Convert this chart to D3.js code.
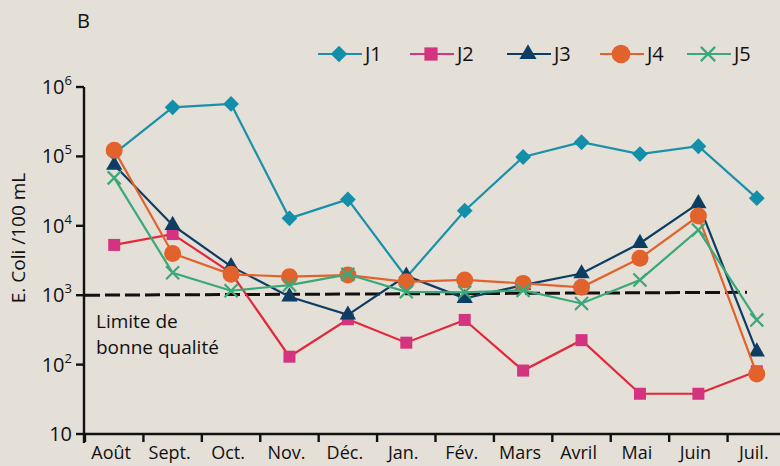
<!DOCTYPE html>
<html>
<head>
<meta charset="utf-8">
<script src="https://cdn.jsdelivr.net/npm/d3@7"></script>
<style>
  body { margin: 0; background: #e4dfd7; }
  svg { display: block; font-family: "Open Sans", "Noto Sans", sans-serif; }
</style>
</head>
<body>
<svg width="780" height="466"></svg>
<script>
// months (x categories)
var months = ["Août", "Sept.", "Oct.", "Nov.", "Déc.", "Jan.", "Fév.", "Mars", "Avril", "Mai", "Juin", "Juil."];

// E. coli / 100 mL
var J1 = [110000, 510000, 570000, 12800, 24000, 1800, 16500, 98000, 160000, 108000, 140000, 25000];
var J2 = [5300, 7600, 2100, 130, 450, 207, 440, 82, 225, 38, 38, 80];
var J3 = [75000, 10200, 2600, 950, 520, 1900, 900, 1400, 2050, 5600, 21000, 153];
var J4 = [123000, 4000, 2000, 1850, 1950, 1560, 1660, 1480, 1300, 3400, 13800, 73];
var J5 = [49000, 2100, 1160, 1400, 2000, 1120, 1100, 1170, 760, 1660, 8700, 440];

var seriesNames = ["J1", "J2", "J3", "J4", "J5"];
var yTicks = [10, 100, 1000, 10000, 100000, 1000000];
var yTickExp = ["", "2", "3", "4", "5", "6"];
var limit = [1000, 1100]; // dashed "limite" line, start / end value

var series = [
  {name: "J1", values: J1, line: "#1b90aa", fill: "#138fa9", shape: "diamond"},
  {name: "J2", values: J2, line: "#e2283c", fill: "#d4347f", legendLine: "#d8377f", shape: "square"},
  {name: "J3", values: J3, line: "#0d3d63", fill: "#0d3d63", shape: "triangle"},
  {name: "J4", values: J4, line: "#e2622b", fill: "#e2622b", shape: "circle"},
  {name: "J5", values: J5, line: "#3aa878", fill: "#3aa878", shape: "cross"}
];

var svg = d3.select("svg");

var x = d3.scaleBand().domain(months).range([85, 786]);
var y = d3.scaleLog().domain([10, 1e6]).range([434, 87]);
var cx = function(i){ return x(months[i]) + x.bandwidth() / 2; };

// panel letter
svg.append("text").attr("x", 77).attr("y", 28).attr("font-size", 20).attr("fill", "#111").text("B");

// axes
var ax = svg.append("g").attr("stroke", "#111").attr("stroke-width", 2.4);
ax.append("line").attr("x1", 84).attr("x2", 84).attr("y1", y(1e6)).attr("y2", 443);
ax.append("line").attr("x1", 83).attr("x2", 780).attr("y1", 434).attr("y2", 434);
yTicks.forEach(function(t){
  ax.append("line").attr("x1", 76).attr("x2", 84).attr("y1", y(t)).attr("y2", y(t));
});
months.forEach(function(m){
  ax.append("line").attr("x1", x(m)).attr("x2", x(m)).attr("y1", 434).attr("y2", 442);
});

// y tick labels 10^n
yTicks.forEach(function(t, i){
  var tx = svg.append("text").attr("x", 72).attr("y", y(t) + 7)
    .attr("text-anchor", "end").attr("font-size", 20).attr("fill", "#111");
  tx.append("tspan").text("10");
  if (yTickExp[i]) tx.append("tspan").attr("font-size", 13).attr("dy", -9).text(yTickExp[i]);
});

svg.append("text").attr("transform", "translate(25,238) rotate(-90)")
  .attr("text-anchor", "middle").attr("font-size", 19).attr("fill", "#111")
  .text("E. Coli /100 mL");

// x labels
months.forEach(function(m, i){
  svg.append("text").attr("x", cx(i) - 3).attr("y", 459).attr("text-anchor", "middle")
    .attr("font-size", 18).attr("fill", "#111").text(m);
});

// limit line
svg.append("line")
  .attr("x1", 85).attr("x2", 747).attr("y1", y(limit[0])).attr("y2", y(limit[1]))
  .attr("stroke", "#111").attr("stroke-width", 3).attr("stroke-dasharray", "15,5");
svg.append("text").attr("x", 96).attr("y", 328).attr("font-size", 19).attr("fill", "#111").text("Limite de");
svg.append("text").attr("x", 96).attr("y", 354).attr("font-size", 19).attr("fill", "#111").text("bonne qualité");

function marker(g, s, px, py, big){
  var k = big ? 1.1 : 1;
  if (s.shape == "diamond") {
    g.append("path").attr("d", d3.symbol(d3.symbolSquare, 125 * k)())
      .attr("transform", "translate(" + px + "," + py + ") rotate(45)").attr("fill", s.fill);
  } else if (s.shape == "square") {
    g.append("rect").attr("x", px - 6 * k).attr("y", py - 6 * k).attr("width", 12 * k).attr("height", 12 * k).attr("fill", s.fill);
  } else if (s.shape == "triangle") {
    g.append("path").attr("d", d3.symbol(d3.symbolTriangle, 115 * k)())
      .attr("transform", "translate(" + px + "," + py + ")").attr("fill", s.fill);
  } else if (s.shape == "circle") {
    g.append("circle").attr("cx", px).attr("cy", py).attr("r", 8.5 * k).attr("fill", s.fill);
  } else {
    var r = 6.5 * k;
    g.append("path").attr("d", "M" + (px - r) + "," + (py - r) + "L" + (px + r) + "," + (py + r) +
      "M" + (px + r) + "," + (py - r) + "L" + (px - r) + "," + (py + r))
      .attr("stroke", s.fill).attr("stroke-width", 2.2).attr("fill", "none");
  }
}

var line = d3.line().x(function(d, i){ return cx(i); }).y(function(d){ return y(d); });

series.forEach(function(s){
  var g = svg.append("g");
  g.append("path").datum(s.values).attr("d", line)
    .attr("fill", "none").attr("stroke", s.line).attr("stroke-width", 2.2);
  s.values.forEach(function(v, i){ marker(g, s, cx(i), y(v)); });
});

// legend
var legX = [318, 410, 507, 600, 687];
series.forEach(function(s, i){
  var g = svg.append("g");
  g.append("line").attr("x1", legX[i]).attr("x2", legX[i] + 44).attr("y1", 54).attr("y2", 54)
    .attr("stroke", s.legendLine || s.line).attr("stroke-width", 2.2);
  marker(g, s, legX[i] + 21, 54, true);
  g.append("text").attr("x", legX[i] + 47).attr("y", 61).attr("font-size", 20).attr("fill", "#111").text(seriesNames[i]);
});
</script>
</body>
</html>
